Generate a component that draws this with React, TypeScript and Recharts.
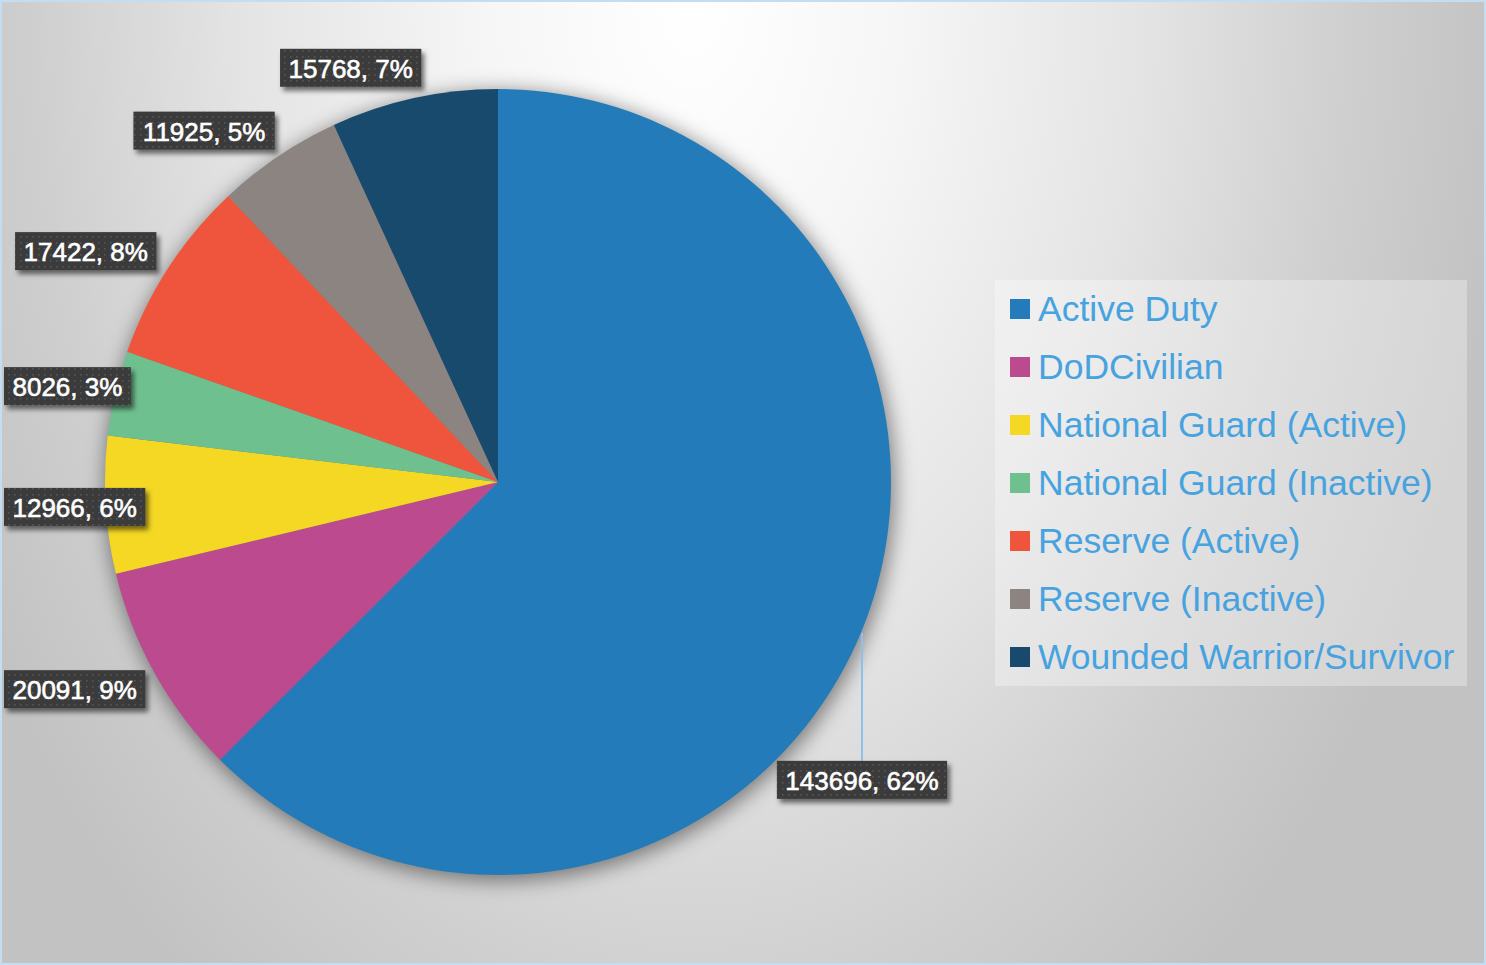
import React from "react";
import { PieChart, Pie, Cell, Legend } from "recharts";

const categories = [
  "Active Duty",
  "DoDCivilian",
  "National Guard (Active)",
  "National Guard (Inactive)",
  "Reserve (Active)",
  "Reserve (Inactive)",
  "Wounded Warrior/Survivor",
];
const counts = [143696, 20091, 12966, 8026, 17422, 11925, 15768];
// percentages as printed on the chart
const pctLabels = ["62%", "9%", "6%", "3%", "8%", "5%", "7%"];
const colors = ["#237bb9", "#bc4a8e", "#f5d824", "#6fc08f", "#ef553c", "#8b8480", "#184a6e"];

const W = 1486;
const H = 965;
const CX = 498;
const CY = 482;
const R = 393;
const FONT = "'Liberation Sans', Arial, sans-serif";

const data = categories.map((name, i) => ({ name, value: counts[i] }));
const shadowData = [{ name: "shadow", value: 1 }];

const charW: Record<string, number> = { ",": 0.278, " ": 0.278, "%": 0.889 };
function textWidth(s: string, size: number) {
  let w = 0;
  for (const c of s) w += charW[c] ?? 0.556;
  return w * size;
}

function SliceLabel(props: any) {
  const { cx, cy, midAngle, outerRadius, index } = props;
  const text = `${counts[index]}, ${pctLabels[index]}`;
  const w = textWidth(text, 26) + 17;
  const h = 38;
  const rad = Math.PI / 180;
  const cos = Math.cos(-midAngle * rad);
  const sin = Math.sin(-midAngle * rad);
  const ax = cx + (outerRadius + 31) * cos;
  const ay = cy + (outerRadius + 31) * sin;

  let left: number;
  let top: number;
  let leader: React.ReactNode = null;
  if (ax < cx) {
    left = Math.max(4, ax + 14 - w);
    top = ay - h / 2;
  } else {
    // right side: drop the label below with a leader line
    const ex = cx + (outerRadius + 1) * cos;
    const ey = cy + (outerRadius + 1) * sin;
    leader = <line x1={ex} y1={ey} x2={ex} y2={ey + 128} stroke="#8fc0ea" strokeWidth={2} />;
    left = ex - w / 2;
    top = ey + 128;
  }

  return (
    <g>
      {leader}
      <rect x={left} y={top} width={w} height={h} fill="url(#dots)" filter="url(#boxShadow)" />
      <text
        x={left + w / 2}
        y={top + h / 2 + 1}
        textAnchor="middle"
        dominantBaseline="central"
        fill="#ffffff"
        stroke="#ffffff"
        strokeWidth={0.6}
        fontSize={26}
        fontFamily={FONT}
      >
        {text}
      </text>
    </g>
  );
}

function LegendBox() {
  return (
    <div
      style={{
        width: 472,
        height: 406,
        background: "rgba(255,255,255,0.3)",
        fontFamily: FONT,
        boxSizing: "border-box",
      }}
    >
      {categories.map((c, i) => (
        <div key={c} style={{ height: 58, display: "flex", alignItems: "center", paddingLeft: 15 }}>
          <span style={{ width: 20, height: 20, background: colors[i], display: "inline-block", marginRight: 8 }} />
          <span style={{ color: "#47a3e0", fontSize: 35.5, lineHeight: "58px", whiteSpace: "nowrap" }}>{c}</span>
        </div>
      ))}
    </div>
  );
}

export default function App() {
  return (
    <div
      style={{
        position: "relative",
        width: W,
        height: H,
        boxSizing: "border-box",
        border: "2px solid #c3ddf2",
        background:
          "radial-gradient(ellipse 820px 1250px at 690px 0px, #ffffff 0%, #f6f6f6 25%, #e4e4e4 55%, #cfcfcf 80%, #c2c2c2 100%)",
        overflow: "hidden",
      }}
    >
      <style>{`body{margin:0}`}</style>
      <svg width={0} height={0} style={{ position: "absolute" }}>
        <defs>
          <pattern id="dots" width={6} height={6} patternUnits="userSpaceOnUse">
            <rect width={6} height={6} fill="#3b3b3b" />
            <rect x={2} y={2} width={1.6} height={1.6} fill="#565656" />
          </pattern>
          <filter id="boxShadow" x="-20%" y="-30%" width="140%" height="170%">
            <feDropShadow dx={3} dy={4} stdDeviation={2.5} floodColor="#000" floodOpacity={0.55} />
          </filter>
          <filter id="pieShadow" x="-20%" y="-20%" width="140%" height="140%">
            <feGaussianBlur stdDeviation={10} />
          </filter>
        </defs>
      </svg>
      <div style={{ position: "absolute", left: -2, top: -2 }}>
        <PieChart width={W} height={H} margin={{ top: 0, right: 0, bottom: 0, left: 0 }}>
          <Pie
            data={shadowData}
            dataKey="value"
            cx={CX + 2}
            cy={CY + 4}
            outerRadius={R + 2}
            startAngle={90}
            endAngle={-270}
            fill="rgba(0,0,0,0.45)"
            stroke="none"
            filter="url(#pieShadow)"
            isAnimationActive={false}
            legendType="none"
          />
          <Pie
            data={data}
            dataKey="value"
            nameKey="name"
            cx={CX}
            cy={CY}
            outerRadius={R}
            startAngle={90}
            endAngle={-270}
            stroke="none"
            label={SliceLabel}
            labelLine={false}
            isAnimationActive={false}
          >
            {data.map((d, i) => (
              <Cell key={d.name} fill={colors[i]} />
            ))}
          </Pie>
          <Legend
            content={() => <LegendBox />}
            wrapperStyle={{ position: "absolute", left: 995, top: 280, width: 472, height: 406 }}
          />
        </PieChart>
      </div>
    </div>
  );
}
